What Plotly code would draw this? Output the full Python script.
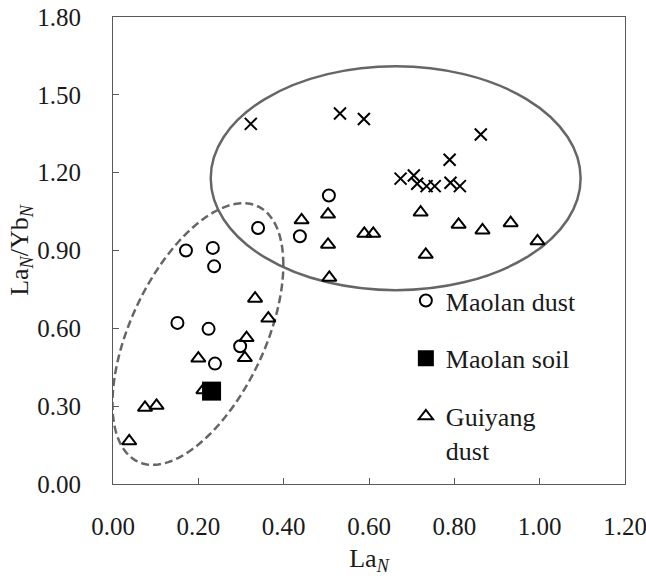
import numpy as np
import plotly.graph_objects as go

# ---- data ----
maolan_dust_x = [0.506, 0.340, 0.438, 0.171, 0.234, 0.237, 0.151, 0.224, 0.298, 0.239]
maolan_dust_y = [1.112, 0.987, 0.955, 0.900, 0.910, 0.839, 0.621, 0.598, 0.531, 0.464]

maolan_soil_x = [0.231]
maolan_soil_y = [0.358]

guiyang_dust_x = [0.442, 0.504, 0.504, 0.507, 0.589, 0.610, 0.333, 0.364, 0.313,
                  0.721, 0.733, 0.810, 0.866, 0.932, 0.995,
                  0.309, 0.200, 0.212, 0.075, 0.102, 0.038]
guiyang_dust_y = [1.017, 1.039, 0.923, 0.795, 0.965, 0.965, 0.715, 0.638, 0.563,
                  1.047, 0.884, 1.000, 0.978, 1.006, 0.936,
                  0.486, 0.484, 0.362, 0.294, 0.302, 0.165]

guiyang_soil_x = [0.323, 0.532, 0.588, 0.862, 0.789, 0.674, 0.705, 0.713, 0.735, 0.754, 0.791, 0.813]
guiyang_soil_y = [1.388, 1.428, 1.407, 1.347, 1.250, 1.177, 1.189, 1.157, 1.148, 1.148, 1.161, 1.148]

x_ticks = [0.0, 0.2, 0.4, 0.6, 0.8, 1.0, 1.2]
y_ticks = [0.0, 0.3, 0.6, 0.9, 1.2, 1.5, 1.8]

# ellipse parameters (data units)
solid_ell = dict(x0=0.229, x1=1.096, y0=0.747, y1=1.610)
dash_ell = dict(cx=0.199, cy=0.578, hx=0.2002, hy=0.5041, rho=0.53)

FONT = "Liberation Serif, Times New Roman, serif"

fig = go.Figure()

fig.add_trace(go.Scatter(
    x=guiyang_soil_x, y=guiyang_soil_y, mode="markers", showlegend=False,
    marker=dict(symbol="x-thin-open", size=12, color="black", line=dict(color="black", width=2)),
))
fig.add_trace(go.Scatter(
    x=maolan_dust_x, y=maolan_dust_y, mode="markers", name="Maolan dust",
    legendgroup="a",
    marker=dict(symbol="circle-open", size=12, color="black", line=dict(color="black", width=2)),
))
fig.add_trace(go.Scatter(
    x=maolan_soil_x, y=maolan_soil_y, mode="markers", name="Maolan soil",
    legendgroup="b",
    marker=dict(symbol="square", size=19, color="black"),
))
fig.add_trace(go.Scatter(
    x=guiyang_dust_x, y=guiyang_dust_y, mode="markers", name="Guiyang<br>dust",
    legendgroup="c",
    marker=dict(symbol="triangle-up-open", size=12.5, color="black", line=dict(color="black", width=2)),
))

# solid ellipse
fig.add_shape(type="circle", xref="x", yref="y", **solid_ell,
              line=dict(color="#666666", width=2.5), layer="below")

# dashed rotated ellipse
t = np.linspace(0, 2 * np.pi, 200)
ex = dash_ell["cx"] + dash_ell["hx"] * np.cos(t)
ey = dash_ell["cy"] + dash_ell["hy"] * (dash_ell["rho"] * np.cos(t) + np.sqrt(1 - dash_ell["rho"] ** 2) * np.sin(t))
path = "M " + " L ".join(f"{a:.4f},{b:.4f}" for a, b in zip(ex, ey)) + " Z"
fig.add_shape(type="path", xref="x", yref="y", path=path,
              line=dict(color="#666666", width=2.5, dash="8px,4px"), layer="below")

axis_common = dict(
    showgrid=False, zeroline=False, showline=True, linecolor="#595959", linewidth=1,
    mirror=True, ticks="inside", ticklen=6, tickcolor="#595959", tickwidth=1,
    tickfont=dict(family=FONT, size=25, color="#1a1a1a"), ticklabeloverflow="allow",
)

fig.update_xaxes(**axis_common, range=[0, 1.2], tickvals=x_ticks,
                 ticktext=[f"{v:.2f}" for v in x_ticks], ticklabelstandoff=20,
                 title=dict(text="La<sub><i>N</i></sub>", font=dict(family=FONT, size=26, color="#1a1a1a"), standoff=18))
fig.update_yaxes(**axis_common, range=[0, 1.8], tickvals=y_ticks,
                 ticktext=[f"{v:.2f}" for v in y_ticks], ticklabelstandoff=26,
                 title=dict(text="La<sub><i>N</i></sub>/Yb<sub><i>N</i></sub>", font=dict(family=FONT, size=26, color="#1a1a1a"), standoff=0))

fig.update_layout(
    width=646, height=576,
    margin=dict(l=113, r=21, t=17, b=92, autoexpand=False),
    plot_bgcolor="white", paper_bgcolor="white",
    font=dict(family=FONT, color="#1a1a1a"),
    legend=dict(x=0.572, y=0.443, xanchor="left", yanchor="top",
                bgcolor="rgba(0,0,0,0)", font=dict(family=FONT, size=26, color="#1a1a1a"),
                tracegroupgap=21, traceorder="grouped", valign="top"),
)

fig.write_html("out.html")
